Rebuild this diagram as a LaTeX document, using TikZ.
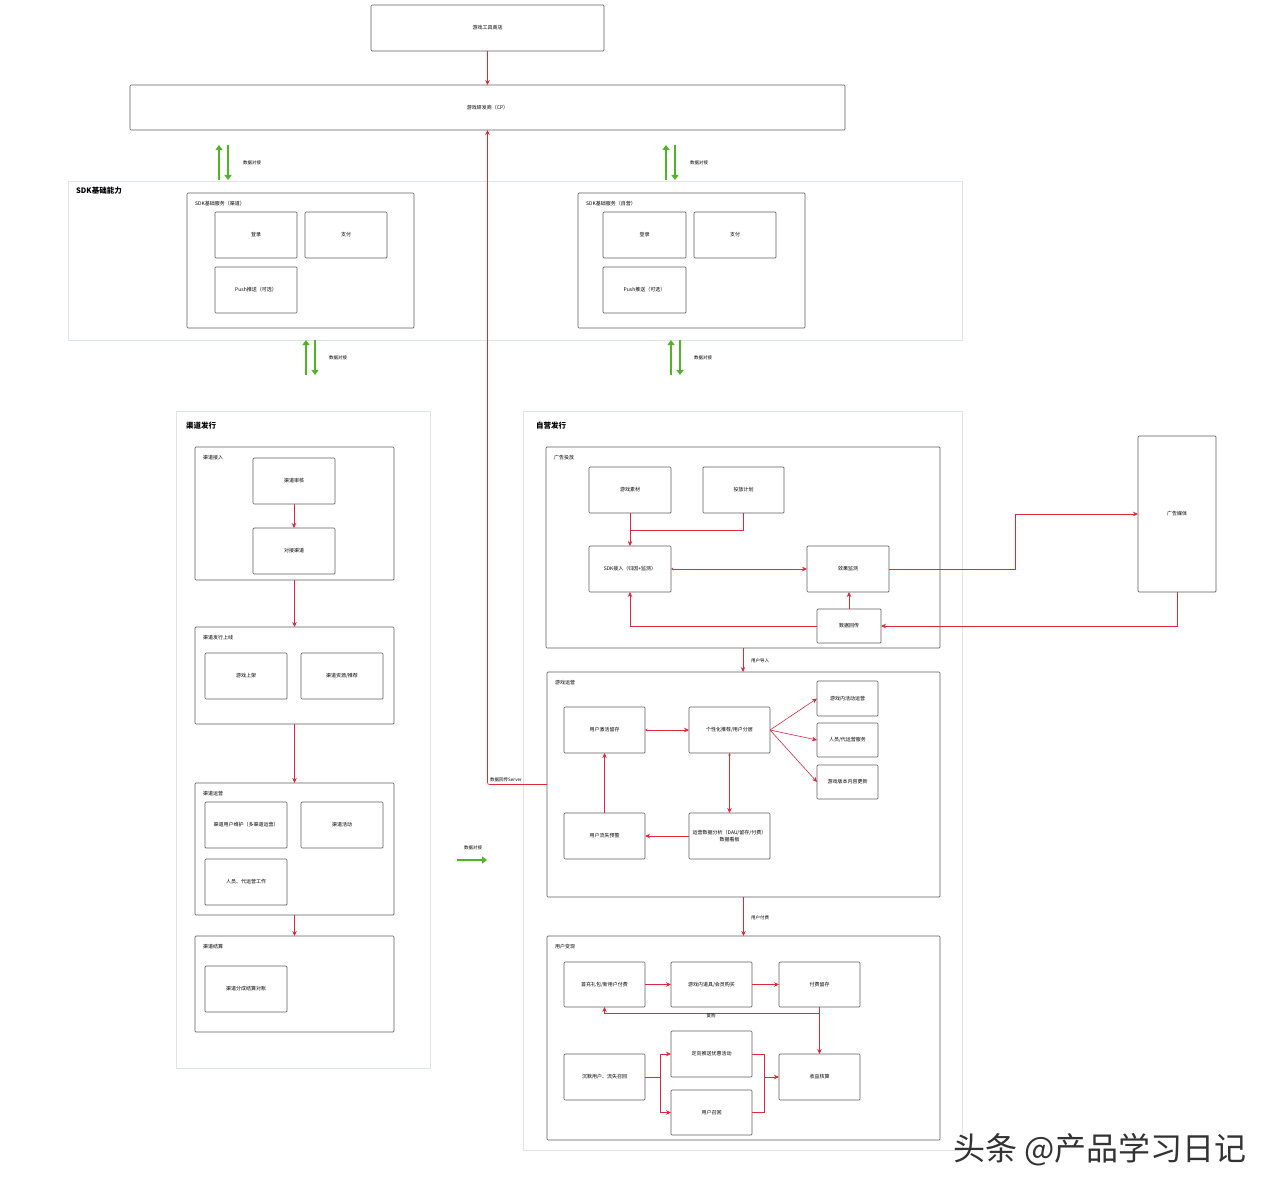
\documentclass[tikz,border=0pt]{standalone}
\usepackage{fontspec}
\newfontfamily\cjk{Noto Sans CJK SC}
\usetikzlibrary{arrows.meta}
\definecolor{lnred}{RGB}{222,40,60}
\definecolor{grn}{RGB}{80,180,40}
\definecolor{bd}{RGB}{95,95,95}
\definecolor{gp}{RGB}{222,228,234}
\newcommand\mybox[6]{\node[box, minimum width={(#4-#2)*1pt}, minimum height={(#5-#3)*1pt}] (#1) at ({(#2+#4)/2},{(#3+#5)/2}) {#6};}
\newcommand\mygrp[6]{\node[grp, minimum width={(#4-#2)*1pt}, minimum height={(#5-#3)*1pt}] (#1) at ({(#2+#4)/2},{(#3+#5)/2}) {};
\node[glabel] at ({#2+8},{#3+11}) {#6};}
\begin{document}
\begin{tikzpicture}[x=1pt,y=-1pt,
 box/.style={draw=bd, line width=0.7pt, rounded corners=1pt, inner sep=1pt, outer sep=0pt, align=center, font=\cjk\fontsize{5}{6.5}\selectfont, fill=white},
 grp/.style={draw=bd, line width=0.7pt, rounded corners=1pt, inner sep=0pt, outer sep=0pt},
 glabel/.style={anchor=west, inner sep=0pt, font=\cjk\fontsize{5}{6}\selectfont},
 region/.style={draw=gp, line width=0.6pt},
 rtitle/.style={anchor=west, inner sep=0pt, font=\cjk\bfseries\fontsize{7.5}{9}\selectfont},
 small/.style={inner sep=1pt, font=\cjk\fontsize{4.5}{5.5}\selectfont},
 rarr/.style={draw=lnred, line width=0.6pt, -{Stealth[length=5pt,width=4.5pt]}},
 rboth/.style={draw=lnred, line width=0.6pt, {Stealth[length=2.5pt,width=2.5pt]}-{Stealth[length=5pt,width=4.5pt]}},
 rline/.style={draw=lnred, line width=0.6pt},
 garr/.style={draw=grn, line width=2.4pt, -{Triangle[length=5pt,width=7pt]}}
]
\fill[white] (0,0) rectangle (1280,1196);
\useasboundingbox (0,0) rectangle (1280,1196);

% top
\mybox{tool}{371}{5}{604}{51}{游戏工具商店}
\mybox{cp}{130}{85}{845}{130}{游戏研发商（CP）}
\draw[rarr] (tool.south) -- (cp.north);

% green arrows top
\draw[garr] (219,180) -- (219,145);
\draw[garr] (228,145) -- (228,180);
\node[small, anchor=west] at (242,163) {数据对接};
\draw[garr] (666,180) -- (666,145);
\draw[garr] (675,145) -- (675,180);
\node[small, anchor=west] at (689,163) {数据对接};

% SDK region
\draw[region] (68,181) rectangle (962,340);
\node[rtitle] at (76,191) {SDK基础能力};
\mygrp{sdka}{187}{193}{414}{328}{SDK基础服务（渠道）}
\mybox{sa1}{215}{212}{297}{258}{登录}
\mybox{sa2}{305}{212}{387}{258}{支付}
\mybox{sa3}{215}{267}{297}{313}{Push推送（可选）}
\mygrp{sdkb}{578}{193}{805}{328}{SDK基础服务（自营）}
\mybox{sb1}{603}{212}{686}{258}{登录}
\mybox{sb2}{694}{212}{776}{258}{支付}
\mybox{sb3}{603}{267}{686}{313}{Push推送（可选）}

% green arrows lower
\draw[garr] (306,375) -- (306,340);
\draw[garr] (315,340) -- (315,375);
\node[small, anchor=west] at (328,358) {数据对接};
\draw[garr] (671,375) -- (671,340);
\draw[garr] (680,340) -- (680,375);
\node[small, anchor=west] at (693,358) {数据对接};

% left region
\draw[region] (176,411) rectangle (430,1068);
\node[rtitle] at (186,426) {渠道发行};
\mygrp{A}{195}{447}{394}{580}{渠道接入}
\mybox{a1}{253}{458}{335}{504}{渠道审核}
\mybox{a2}{253}{528}{335}{574}{对接渠道}
\draw[rarr] (a1.south) -- (a2.north);
\mygrp{B}{195}{627}{394}{724}{渠道发行上线}
\mybox{b1}{205}{653}{287}{699}{游戏上架}
\mybox{b2}{301}{653}{383}{699}{渠道资源/推荐}
\mygrp{C}{195}{783}{394}{915}{渠道运营}
\mybox{c1}{205}{802}{287}{848}{渠道用户维护（多渠道运营）}
\mybox{c2}{301}{802}{383}{848}{渠道活动}
\mybox{c3}{205}{859}{287}{905}{人员、代运营工作}
\mygrp{D}{195}{936}{394}{1032}{渠道结算}
\mybox{d1}{205}{966}{287}{1012}{渠道分成结算对账}
\draw[rarr] (A.south) -- (B.north);
\draw[rarr] (B.south) -- (C.north);
\draw[rarr] (C.south) -- (D.north);

% middle green arrow
\node[small] at (473,848) {数据对接};
\draw[garr] (457,860) -- (487,860);

% right region
\draw[region] (523,411) rectangle (962,1150);
\node[rtitle] at (536,426) {自营发行};

\mygrp{E}{546}{447}{940}{648}{广告投放}
\mybox{e1}{589}{467}{671}{513}{游戏素材}
\mybox{e2}{703}{467}{784}{513}{投放计划}
\mybox{e3}{589}{546}{671}{592}{SDK接入（归因+监测）}
\mybox{e4}{807}{546}{889}{592}{效果监测}
\mybox{e5}{817}{609}{881}{643}{数据回传}
\mybox{F}{1138}{436}{1216}{592}{广告媒体}
\coordinate (ej) at (630,530);
\draw[rline] (e2.south) |- (ej);
\draw[rarr] (e1.south) -- (e3.north);
\draw[rboth] (e3.east) -- (e4.west);
\draw[rarr] (e5.north) -- (e5.north |- e4.south);
\draw[rarr] (e5.west) -| (e3.south);
\coordinate (fj) at (1015,569);
\draw[rarr] (e4.east) -- (fj) |- (F.west);
\draw[rarr] (F.south) |- (e5.east);

\mygrp{G}{547}{672}{940}{897}{游戏运营}
\draw[rarr] (E.south) -- (E.south |- G.north);
\node[small, anchor=west] at (750,661) {用户导入};
\mybox{g1}{564}{707}{645}{753}{用户激活留存}
\mybox{g2}{689}{707}{770}{753}{个性化推荐/用户分层}
\mybox{g3}{817}{681}{878}{716}{游戏内活动运营}
\mybox{g4}{817}{723}{878}{757}{人员/代运营服务}
\mybox{g5}{817}{765}{878}{799}{游戏版本内容更新}
\mybox{g6}{564}{813}{645}{859}{用户流失预警}
\mybox{g7}{689}{813}{770}{859}{运营数据分析（DAU/留存/付费）\\数据看板}
\draw[rboth] (g1.east) -- (g2.west);
\draw[rarr] (g2.east) -- (g3.west);
\draw[rarr] (g2.east) -- (g4.west);
\draw[rarr] (g2.east) -- (g5.west);
\draw[rboth] (g2.south) -- (g7.north);
\draw[rarr] (g7.west) -- (g6.east);
\draw[rarr] (g6.north) -- (g1.south);

% link back to CP
\draw[rarr, rounded corners=2pt] (G.west) -| (cp.south);
\node[small, anchor=south west] at (489,783) {数据回传Server};

\mygrp{H}{547}{936}{940}{1140}{用户变现}
\draw[rarr] (G.south) -- (G.south |- H.north);
\node[small, anchor=west] at (750,918) {用户付费};
\mybox{h1}{564}{962}{645}{1007}{首充礼包/新用户付费}
\mybox{h2}{671}{962}{752}{1007}{游戏内道具/会员购买}
\mybox{h3}{779}{962}{860}{1007}{付费留存}
\mybox{h4}{564}{1054}{645}{1100}{沉默用户、流失召回}
\mybox{h5}{671}{1031}{752}{1077}{定向推送优惠活动}
\mybox{h6}{671}{1090}{752}{1135}{用户召回}
\mybox{h7}{779}{1054}{860}{1100}{收益核算}
\draw[rarr] (h1.east) -- (h2.west);
\draw[rarr] (h2.east) -- (h3.west);
\draw[rarr] (h3.south) -- (h7.north);
\draw[rarr] (h3.south |- 0,1013) -| (h1.south);
\node[small, anchor=north] at (711,1013) {复购};
\coordinate (hb) at (660,1077);
\coordinate (hm) at (764,1077);
\draw[rline] (h4.east) -- (hb);
\draw[rarr] (hb) |- (h5.west);
\draw[rarr] (hb) |- (h6.west);
\draw[rline] (h5.east) -| (hm);
\draw[rline] (h6.east) -| (hm);
\draw[rarr] (hm) -- (h7.west);

% watermark
\node[inner sep=0pt, text=black!80, font=\cjk\fontsize{32}{34}\selectfont] at (1100,1150) {头条 @产品学习日记};
\end{tikzpicture}
\end{document}
